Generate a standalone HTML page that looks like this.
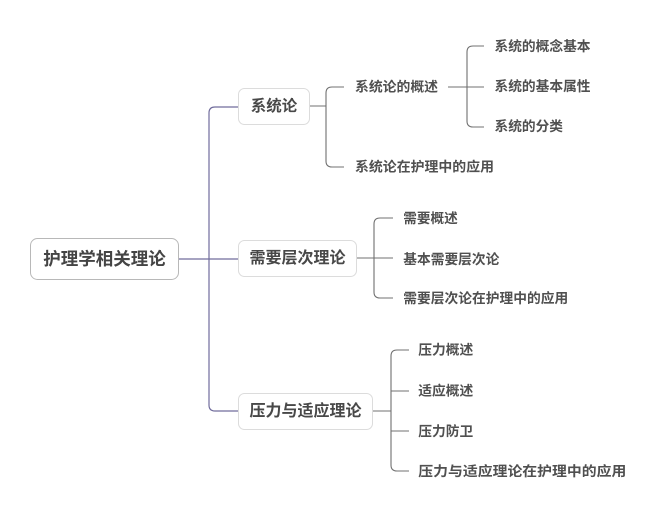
<!DOCTYPE html>
<html>
<head>
<meta charset="utf-8">
<style>
html,body{margin:0;padding:0;background:#fff;}
svg{display:block;}
text{font-family:"Liberation Sans","Noto Sans CJK SC",sans-serif;font-weight:bold;}
</style>
</head>
<body>
<svg width="667" height="518" viewBox="0 0 667 518" xmlns="http://www.w3.org/2000/svg">
<rect width="667" height="518" fill="#fff"/>
<!-- main connectors -->
<g fill="none" stroke="#706c9c" stroke-width="1.2">
<path d="M178,259 H238"/>
<path d="M238,107 H215 Q209,107 209,113 V405 Q209,411 215,411 H238"/>
</g>
<!-- secondary connectors -->
<g fill="none" stroke="#707070" stroke-width="1.1">
<path d="M309,106 H326"/>
<path d="M344,87 H332 Q326,87 326,93 V161 Q326,167 332,167 H344"/>
<path d="M448,87 H484"/>
<path d="M484,46 H473 Q467,46 467,52 V121 Q467,127 473,127 H484"/>
<path d="M356,258 H393"/>
<path d="M393,218 H380 Q374,218 374,224 V292 Q374,298 380,298 H393"/>
<path d="M372,411 H391"/>
<path d="M409,350 H397 Q391,350 391,356 V465 Q391,471 397,471 H409"/>
<path d="M391,391 H409"/>
<path d="M391,431 H409"/>
</g>
<!-- boxes -->
<rect x="30.5" y="238.5" width="148" height="41" rx="7" fill="#fff" stroke="#b8b8b8" stroke-width="1"/>
<rect x="238.5" y="88.5" width="71" height="36" rx="6" fill="#fff" stroke="#dcdcdc" stroke-width="1"/>
<rect x="238.5" y="240.5" width="118" height="36" rx="6" fill="#fff" stroke="#dcdcdc" stroke-width="1"/>
<rect x="238.5" y="393.5" width="134" height="36" rx="6" fill="#fff" stroke="#dcdcdc" stroke-width="1"/>
<!-- texts -->
<text x="104.5" y="259" font-size="17.5" fill="#444" text-anchor="middle" dominant-baseline="central">护理学相关理论</text>
<text x="274" y="106.5" font-size="15.5" fill="#484848" text-anchor="middle" dominant-baseline="central">系统论</text>
<text x="297.5" y="258.5" font-size="16" fill="#484848" text-anchor="middle" dominant-baseline="central">需要层次理论</text>
<text x="305.5" y="411.5" font-size="16" fill="#484848" text-anchor="middle" dominant-baseline="central">压力与适应理论</text>
<g font-size="13.8" fill="#505050">
<text x="355" y="87" dominant-baseline="central" textLength="83" lengthAdjust="spacingAndGlyphs">系统论的概述</text>
<text x="355" y="167" dominant-baseline="central" textLength="139" lengthAdjust="spacingAndGlyphs">系统论在护理中的应用</text>
<text x="494.5" y="46.5" dominant-baseline="central" textLength="96" lengthAdjust="spacingAndGlyphs">系统的概念基本</text>
<text x="494.5" y="86.5" dominant-baseline="central" textLength="96" lengthAdjust="spacingAndGlyphs">系统的基本属性</text>
<text x="494.5" y="126.5" dominant-baseline="central" textLength="68.5" lengthAdjust="spacingAndGlyphs">系统的分类</text>
<text x="403.3" y="218.3" dominant-baseline="central" textLength="54.5" lengthAdjust="spacingAndGlyphs">需要概述</text>
<text x="403.3" y="259.5" dominant-baseline="central" textLength="96" lengthAdjust="spacingAndGlyphs">基本需要层次论</text>
<text x="403.3" y="298.3" dominant-baseline="central" textLength="165" lengthAdjust="spacingAndGlyphs">需要层次论在护理中的应用</text>
<text x="418.3" y="350" dominant-baseline="central" textLength="55" lengthAdjust="spacingAndGlyphs">压力概述</text>
<text x="418.3" y="391" dominant-baseline="central" textLength="55" lengthAdjust="spacingAndGlyphs">适应概述</text>
<text x="418.3" y="431.3" dominant-baseline="central" textLength="55" lengthAdjust="spacingAndGlyphs">压力防卫</text>
<text x="418.3" y="471.3" dominant-baseline="central" textLength="208" lengthAdjust="spacingAndGlyphs">压力与适应理论在护理中的应用</text>
</g>
</svg>
</body>
</html>
